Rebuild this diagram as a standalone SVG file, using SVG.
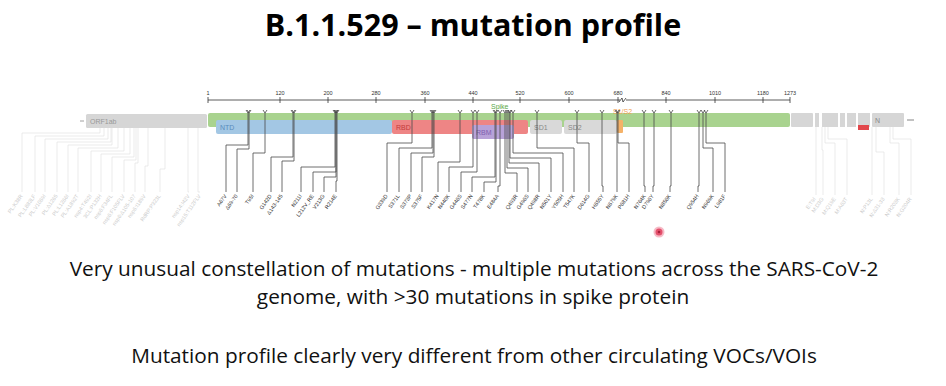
<svg xmlns="http://www.w3.org/2000/svg" width="946" height="386" viewBox="0 0 946 386">
<defs>
<style>
.title{font-family:"Open Sans","Liberation Sans",sans-serif;font-weight:bold;font-size:30.5px;fill:#000}
.body{font-family:"Open Sans","Liberation Sans",sans-serif;font-size:20.8px;fill:#111}
.ax{font-family:"Liberation Sans",sans-serif;font-size:5.5px;fill:#333}
.lab{font-family:"Liberation Sans",sans-serif;font-size:5.4px;fill:#333}
.glab{font-family:"Liberation Sans",sans-serif;font-size:5.4px;fill:#cdcdcd}
.dom{font-family:"Liberation Sans",sans-serif;font-size:7px}
.con{fill:none;stroke:#4a4a4a;stroke-width:0.8}
.gcon{fill:none;stroke:#e2e2e2;stroke-width:0.7}
.gseg{fill:#d6d6d6}
</style>
<marker id="tick" markerUnits="userSpaceOnUse" markerWidth="6" markerHeight="6" refX="3" refY="4" orient="0" viewBox="0 0 6 6">
<path d="M1,1 L3,4 L5,1" fill="none" stroke="#444" stroke-width="0.8"/>
</marker>
</defs>
<rect width="946" height="386" fill="#fff"/>
<text class="title" x="473" y="36" text-anchor="middle">B.1.1.529 – mutation profile</text>

<g id="axis">
<line x1="208" y1="100" x2="620" y2="100" stroke="#333" stroke-width="0.8"/>
<line x1="626" y1="100" x2="790" y2="100" stroke="#333" stroke-width="0.8"/>
<path d="M619,102 L622,98 L623,102 L626,98" fill="none" stroke="#333" stroke-width="0.8"/>
<g stroke="#333" stroke-width="0.8">
<line x1="208" y1="97" x2="208" y2="103"/><line x1="280" y1="97" x2="280" y2="103"/><line x1="328" y1="97" x2="328" y2="103"/><line x1="376" y1="97" x2="376" y2="103"/><line x1="425" y1="97" x2="425" y2="103"/><line x1="473" y1="97" x2="473" y2="103"/><line x1="520" y1="97" x2="520" y2="103"/><line x1="569" y1="97" x2="569" y2="103"/><line x1="618" y1="97" x2="618" y2="103"/><line x1="666" y1="97" x2="666" y2="103"/><line x1="715" y1="97" x2="715" y2="103"/><line x1="763" y1="97" x2="763" y2="103"/><line x1="790" y1="97" x2="790" y2="103"/>
</g>
<g class="ax" text-anchor="middle">
<text x="208" y="95">1</text><text x="280" y="95">120</text><text x="328" y="95">200</text><text x="376" y="95">280</text><text x="425" y="95">360</text><text x="473" y="95">440</text><text x="520" y="95">520</text><text x="569" y="95">600</text><text x="618" y="95">680</text><text x="666" y="95">840</text><text x="715" y="95">1010</text><text x="763" y="95">1180</text><text x="790" y="95">1273</text>
</g>
</g>

<g id="genome">
<line x1="80" y1="121" x2="84" y2="121" stroke="#888" stroke-width="0.8"/>
<rect id="orf1ab" class="gseg" x="86" y="114" width="121" height="14" rx="1.5"/>
<text class="dom" x="90" y="124" fill="#999">ORF1ab</text>
<rect class="gseg" x="791" y="113" width="22" height="14" rx="1"/>
<rect class="gseg" x="815" y="113" width="4" height="14"/>
<rect class="gseg" x="822" y="113" width="16" height="14"/>
<rect class="gseg" x="840" y="113" width="5" height="14"/>
<rect class="gseg" x="847" y="113" width="9" height="14"/>
<rect class="gseg" x="858" y="113" width="12" height="14"/>
<rect x="858" y="125" width="11" height="5" fill="#e2474b"/>
<rect class="gseg" x="872" y="113" width="32" height="14" rx="1"/>
<text class="dom" x="875" y="123" fill="#888">N</text>
<line x1="907" y1="120" x2="914" y2="120" stroke="#777" stroke-width="0.9"/>
</g>

<g id="spike">
<rect x="208" y="113" width="582" height="14" rx="2" fill="#a9d38f"/>
<text class="dom" x="491" y="109" fill="#5aa84a">Spike</text>
<text class="dom" x="613" y="114" fill="#f0a050">S1/S2</text>
</g>
<g id="ntd"><rect x="216" y="120" width="176" height="14" rx="2" fill="#a3c7e4"/><text class="dom" x="220" y="130" fill="#5a8cbd">NTD</text></g>
<g id="rbd"><rect x="392" y="120" width="136" height="14" rx="2" fill="#ee8585"/><text class="dom" x="396" y="130" fill="#c43c3c">RBD</text></g>
<g id="rbm"><rect x="472" y="125" width="42" height="14" rx="2" fill="#b8a2d8"/><text class="dom" x="476" y="135" fill="#8060b0">RBM</text></g>
<g id="sd1"><rect x="530" y="120" width="32" height="14" rx="2" fill="#d9d9d9"/><text class="dom" x="534" y="130" fill="#888">SD1</text></g>
<g id="sd2"><rect x="564" y="120" width="53" height="14" rx="2" fill="#d9d9d9"/><text class="dom" x="568" y="130" fill="#888">SD2</text></g>
<g id="s1s2"><rect x="617" y="120" width="6" height="13" rx="1" fill="#f5b268"/></g>

<g id="connectors">
<g class="gcon">
<path d="M100,128 V133 H22 V192"/><path d="M104,128 V136 H35 V192"/><path d="M108,128 V139 H45 V192"/><path d="M111,128 V142 H57 V192"/><path d="M112,128 V145 H68 V192"/><path d="M118,128 V148 H78 V192"/><path d="M124,128 V151 H91 V192"/><path d="M130,128 V154 H101 V192"/><path d="M134,128 V157 H112 V192"/><path d="M136,128 V160 H124 V192"/><path d="M138,128 V163 H135 V192"/><path d="M148,128 V166 H145 V192"/><path d="M165,128 V169 H160 V192"/><path d="M188,128 V192 H189"/><path d="M198,128 V192 H200"/>
<path d="M816,127 V195"/><path d="M822,127 V150 H823 V195"/><path d="M825,127 V143 H835 V195"/><path d="M828,127 V139 H847 V195"/><path d="M872,127 V195"/><path d="M876,127 V152 H884 V195"/><path d="M890,127 V143 H899 V195"/><path d="M893,127 V139 H911 V195"/>
</g>
<g class="con" marker-start="url(#tick)">
<path d="M248,113 V145 H226 V192"/><path d="M249,113 V149 H237 V192"/><path d="M265,113 V153 H253 V192"/><path d="M293,113 V157 H271 V192"/><path d="M294,113 V161 H282 V192"/><path d="M335,113 V167 H301 V192"/><path d="M336,113 V172 H313 V192"/><path d="M336,113 V177 H324 V192"/><path d="M337,113 V181 H336 V192"/>
<path d="M412,113 V143 H387 V192"/><path d="M432,113 V148 H399 V192"/><path d="M433,113 V153 H411 V192"/><path d="M434,113 V157 H422 V192"/><path d="M460,113 V162 H438 V192"/><path d="M473,113 V167 H449 V192"/><path d="M477,113 V172 H461 V192"/><path d="M495,113 V177 H472 V192"/><path d="M496,113 V182 H484 V192"/><path d="M500,113 V186 H498 V192"/>
<path d="M505,113 V173 H517 V192"/><path d="M507,113 V168 H528 V192"/><path d="M509,113 V163 H539 V192"/><path d="M510,113 V158 H551 V192"/><path d="M513,113 V153 H563 V192"/><path d="M537,113 V148 H574 V192"/><path d="M577,113 V143 H589 V192"/><path d="M602,113 V186 H603 V192"/><path d="M617,113 V192"/><path d="M618,113 V143 H629 V192"/><path d="M644,113 V186 H645 V192"/><path d="M654,113 V186 H653 V192"/><path d="M671,113 V186 H670 V192"/><path d="M699,113 V186 H698 V192"/><path d="M703,113 V148 H713 V192"/><path d="M706,113 V143 H725 V192"/>
</g>
</g>

<g id="orf1ab-labels" class="glab" text-anchor="end">
<text transform="translate(23,196) rotate(-55)">PL:K38R</text>
<text transform="translate(36,196) rotate(-55)">PL:L883LF</text>
<text transform="translate(46,196) rotate(-55)">PL:V1069I</text>
<text transform="translate(58,196) rotate(-55)">PL:Δ1265</text>
<text transform="translate(69,196) rotate(-55)">PL:L1266I</text>
<text transform="translate(79,196) rotate(-55)">PL:A1892T</text>
<text transform="translate(92,196) rotate(-55)">nsp4:T492I</text>
<text transform="translate(102,196) rotate(-55)">3CL:P132H</text>
<text transform="translate(113,196) rotate(-55)">nsp6:F34FL</text>
<text transform="translate(125,196) rotate(-55)">nsp6:F105FLV</text>
<text transform="translate(136,196) rotate(-55)">nsp6:Δ105-107</text>
<text transform="translate(146,196) rotate(-55)">nsp6:I189V</text>
<text transform="translate(161,196) rotate(-55)">RdRP:P323L</text>
<text transform="translate(190,196) rotate(-55)">nsp14:I42V</text>
<text transform="translate(201,196) rotate(-55)">nsp15:T112FLV</text>
</g>

<g id="spike-labels" class="lab" text-anchor="end">
<text transform="translate(227,196) rotate(-55)">A67V</text>
<text transform="translate(238,196) rotate(-55)">Δ69-70</text>
<text transform="translate(254,196) rotate(-55)">T95I</text>
<text transform="translate(272,196) rotate(-55)">G142D</text>
<text transform="translate(283,196) rotate(-55)">Δ143-145</text>
<text transform="translate(302,196) rotate(-55)">N211I</text>
<text transform="translate(314,196) rotate(-55)">L212V_RE</text>
<text transform="translate(325,196) rotate(-55)">V213G</text>
<text transform="translate(337,196) rotate(-55)">R214E</text>
<text transform="translate(388,196) rotate(-55)">G339D</text>
<text transform="translate(400,196) rotate(-55)">S371L</text>
<text transform="translate(412,196) rotate(-55)">S373P</text>
<text transform="translate(423,196) rotate(-55)">S375F</text>
<text transform="translate(439,196) rotate(-55)">K417N</text>
<text transform="translate(450,196) rotate(-55)">N440K</text>
<text transform="translate(462,196) rotate(-55)">G446S</text>
<text transform="translate(473,196) rotate(-55)">S477N</text>
<text transform="translate(485,196) rotate(-55)">T478K</text>
<text transform="translate(499,196) rotate(-55)">E484A</text>
<text transform="translate(518,196) rotate(-55)">Q493R</text>
<text transform="translate(529,196) rotate(-55)">G496S</text>
<text transform="translate(540,196) rotate(-55)">Q498R</text>
<text transform="translate(552,196) rotate(-55)">N501Y</text>
<text transform="translate(564,196) rotate(-55)">Y505H</text>
<text transform="translate(575,196) rotate(-55)">T547K</text>
<text transform="translate(590,196) rotate(-55)">D614G</text>
<text transform="translate(604,196) rotate(-55)">H655Y</text>
<text transform="translate(618,196) rotate(-55)">N679K</text>
<text transform="translate(630,196) rotate(-55)">P681H</text>
<text transform="translate(646,196) rotate(-55)">N764K</text>
<text transform="translate(654,196) rotate(-55)">D796Y</text>
<text transform="translate(671,196) rotate(-55)">N856K</text>
<text transform="translate(699,196) rotate(-55)">Q954H</text>
<text transform="translate(714,196) rotate(-55)">N969K</text>
<text transform="translate(726,196) rotate(-55)">L981F</text>
</g>

<g id="other-labels" class="glab" text-anchor="end">
<text transform="translate(816,199) rotate(-55)">E:T9I</text>
<text transform="translate(824,199) rotate(-55)">M:D3G</text>
<text transform="translate(836,199) rotate(-55)">M:Q19E</text>
<text transform="translate(848,199) rotate(-55)">M:A63T</text>
<text transform="translate(873,199) rotate(-55)">N:P13L</text>
<text transform="translate(885,199) rotate(-55)">N:Δ31-33</text>
<text transform="translate(900,199) rotate(-55)">N:R203K</text>
<text transform="translate(912,199) rotate(-55)">N:G204R</text>
</g>

<g id="pointer">
<circle cx="659" cy="232" r="5.5" fill="#f4a9b8" opacity="0.8"/>
<circle cx="659" cy="232" r="3.5" fill="#e4506c"/>
<circle cx="659" cy="232" r="1.3" fill="#a8203a"/>
</g>

<g id="caption">
<text class="body" x="474" y="276" text-anchor="middle">Very unusual constellation of mutations - multiple mutations across the SARS-CoV-2</text>
<text class="body" x="473" y="304" text-anchor="middle">genome, with &gt;30 mutations in spike protein</text>
<text class="body" x="474" y="363" text-anchor="middle">Mutation profile clearly very different from other circulating VOCs/VOIs</text>
</g>
</svg>
